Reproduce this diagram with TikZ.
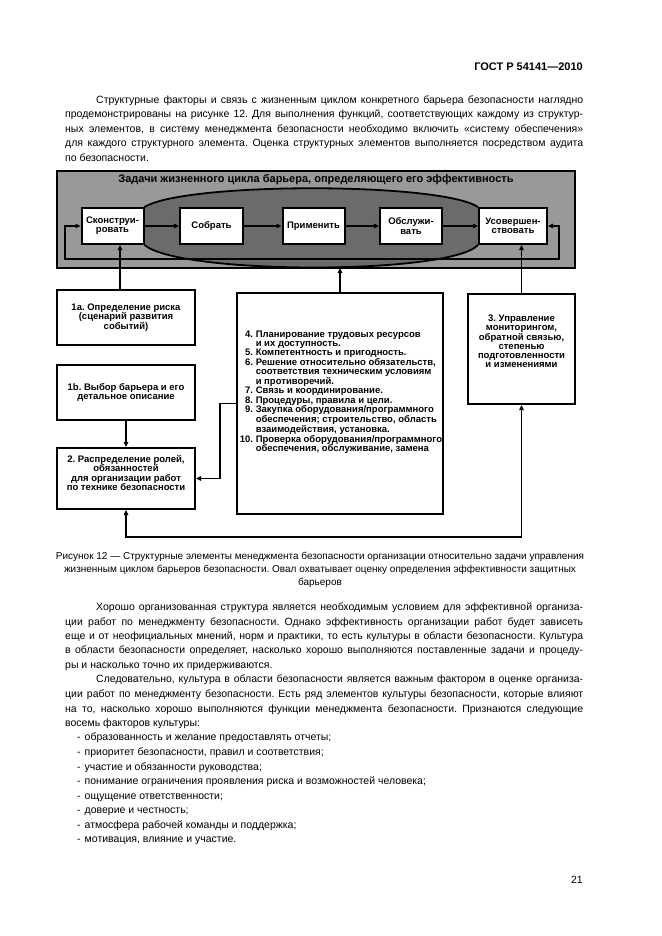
\documentclass[tikz,border=0pt]{standalone}
\usepackage{fontspec}
\setmainfont{Liberation Sans}
\usetikzlibrary{arrows.meta,positioning}

\pgfdeclarelayer{frame}
\pgfdeclarelayer{oval}
\pgfsetlayers{frame,oval,main}

\tikzset{
  stage/.style={draw, line width=2pt, fill=white, minimum width=62pt, minimum height=36pt,
    inner sep=1pt, align=center, font=\bfseries\fontsize{9.5}{9.2}\selectfont},
  block/.style={draw, line width=2.2pt, fill=white, inner sep=0pt, align=center,
    font=\bfseries\fontsize{9.5}{9.2}\selectfont},
  arr/.style={line width=1.7pt, -{Triangle[length=5pt,width=4.5pt]}},
  twoway/.style={line width=1.7pt, {Triangle[length=5pt,width=4.5pt]}-{Triangle[length=5pt,width=4.5pt]}},
  body/.style={anchor=north west, inner sep=0pt, text width=518pt, align=justify,
    font=\fontsize{10.5}{14.5}\selectfont},
}

\begin{document}
\frenchspacing
\begin{tikzpicture}[x=1pt,y=-1pt]
  \useasboundingbox (0,0) rectangle (661,936);

  % page head
  \node[anchor=east, inner sep=0pt, font=\bfseries\fontsize{11}{13}\selectfont] (head) at (583,67) {ГОСТ Р 54141—2010};

  \node[body] (para1) at (65,95.5) {\hyphenpenalty=10000
    \hspace*{31pt}Структурные факторы и связь с жизненным циклом конкретного барьера безопасности наглядно\linebreak
    продемонстрированы на рисунке 12. Для выполнения функций, соответствующих каждому из структур-\linebreak
    ных элементов, в систему менеджмента безопасности необходимо включить «систему обеспечения»\linebreak
    для каждого структурного элемента. Оценка структурных элементов выполняется посредством аудита\linebreak
    по безопасности.};

  % life cycle stages
  \node[stage] (kon) at (112.5,226) {Сконструи-\\ровать};
  \node[stage, minimum width=63pt] (sob) at (211.5,226) {Собрать};
  \node[stage] (pri) at (313.5,226) {Применить};
  \node[stage] (obs) at (411,226) {Обслужи-\\вать};
  \node[stage, minimum width=68pt] (usov) at (513,226) {Усовершен-\\ствовать};

  % grey frame round them
  \coordinate (lcnw) at (57,171);
  \coordinate (lcse) at (575,268);
  \begin{pgfonlayer}{frame}
    \fill[black!40] (lcnw) rectangle (lcse);
  \end{pgfonlayer}
  \node[font=\bfseries\fontsize{11}{12}\selectfont, inner sep=0pt] (ttl) at (316,180)
    {Задачи жизненного цикла барьера, определяющего его эффективность};

  % the oval (effectiveness)
  \begin{pgfonlayer}{oval}
    \fill[black!58] (kon.north east) .. controls (185,182) and (440,182) .. (usov.north west)
       -- (usov.south west) .. controls (450,275) and (180,275) .. (kon.south east) -- cycle;
    \draw[line width=1.8pt] (kon.north east) .. controls (185,182) and (440,182) .. (usov.north west);
    \draw[line width=1.8pt] (kon.south east) .. controls (180,275) and (450,275) .. (usov.south west);
  \end{pgfonlayer}
  \draw[line width=2.2pt] (lcnw) rectangle (lcse);

  \foreach \a/\b in {kon/sob, sob/pri, pri/obs, obs/usov}
    \draw[arr] (\a) -- (\b);

  \coordinate (fbl) at (65,259);
  \coordinate (fbr) at (559,259);
  \draw[twoway] (kon.west) -| (fbl) -- (fbr) |- (usov.east);

  % structural elements
  \node[block, minimum width=138pt, minimum height=55pt] (r1a) at (126,317.5)
    {1а. Определение риска\\(сценарий развития\\событий)};
  \node[block, minimum width=138pt, minimum height=55pt] (r1b) at (126,392.5)
    {1b. Выбор барьера и его\\детальное описание};
  \node[block, minimum width=138pt, minimum height=61pt] (r2) at (126,478.5) {};
  \node[block, draw=none, fill=none] (r2txt) at (126,473)
    {2. Распределение ролей,\\обязанностей\\для организации работ\\по технике безопасности};
  \node[block, minimum width=206pt, minimum height=221pt] (ctr) at (340,403.5) {};
  \node[block, draw=none, fill=none, align=left] (ctrtxt) at (341,392.5)
    {\begin{tabular}{@{}r@{~}l@{}}
      4.&Планирование трудовых ресурсов\\
        &и их доступность.\\
      5.&Компетентность и пригодность.\\
      6.&Решение относительно обязательств,\\
        &соответствия техническим условиям\\
        &и противоречий.\\
      7.&Связь и координирование.\\
      8.&Процедуры, правила и цели.\\
      9.&Закупка оборудования/программного\\
        &обеспечения; строительство, область\\
        &взаимодействия, установка.\\
      10.&Проверка оборудования/программного\\
        &обеспечения, обслуживание, замена
    \end{tabular}};
  \node[block, minimum width=107pt, minimum height=110pt] (r3) at (521.5,349) {};
  \node[block, draw=none, fill=none] (r3txt) at (521.5,341.5)
    {3. Управление\\мониторингом,\\обратной связью,\\степенью\\подготовленности\\и изменениями};

  \coordinate (k1) at ([xshift=7.5pt]kon.south);
  \draw[arr] (r1a.north -| k1) -- (k1);
  \draw[arr] (ctr.north) -- (ctr.north |- lcse);
  \draw[arr] (r3.north) -- (r3.north |- usov.south);
  \draw[arr] (r1b.south) -- (r2.north);
  \coordinate (bend) at (220,0);
  \draw[arr] (ctr.west) -- (ctr.west -| bend) |- (r2.east);
  \coordinate (low) at (0,537);
  \draw[twoway] (r2.south) -- (r2.south |- low) -| (r3.south);

  % caption
  \node[anchor=north, inner sep=0pt, align=center, font=\fontsize{10}{13}\selectfont] (cap) at (320,552)
    {Рисунок 12 — Структурные элементы менеджмента безопасности организации относительно задачи управления\\
     жизненным циклом барьеров безопасности. Овал охватывает оценку определения эффективности защитных\\
     барьеров};

  \node[body] (para2) at (65,602.5) {\hyphenpenalty=10000
    \hspace*{31pt}Хорошо организованная структура является необходимым условием для эффективной организа-\linebreak
    ции работ по менеджменту безопасности. Однако эффективность организации работ будет зависеть\linebreak
    еще и от неофициальных мнений, норм и практики, то есть культуры в области безопасности. Культура\linebreak
    в области безопасности определяет, насколько хорошо выполняются поставленные задачи и процеду-\linebreak
    ры и насколько точно их придерживаются.\par
    \hspace*{31pt}Следовательно, культура в области безопасности является важным фактором в оценке организа-\linebreak
    ции работ по менеджменту безопасности. Есть ряд элементов культуры безопасности, которые влияют\linebreak
    на то, насколько хорошо выполняются функции менеджмента безопасности. Признаются следующие\linebreak
    восемь факторов культуры:\par
    \hspace*{12pt}-\hspace{4pt}образованность и желание предоставлять отчеты;\par
    \hspace*{12pt}-\hspace{4pt}приоритет безопасности, правил и соответствия;\par
    \hspace*{12pt}-\hspace{4pt}участие и обязанности руководства;\par
    \hspace*{12pt}-\hspace{4pt}понимание ограничения проявления риска и возможностей человека;\par
    \hspace*{12pt}-\hspace{4pt}ощущение ответственности;\par
    \hspace*{12pt}-\hspace{4pt}доверие и честность;\par
    \hspace*{12pt}-\hspace{4pt}атмосфера рабочей команды и поддержка;\par
    \hspace*{12pt}-\hspace{4pt}мотивация, влияние и участие.};

  \node[anchor=east, inner sep=0pt, font=\fontsize{10.5}{12}\selectfont] (pg) at (583,880) {21};
\end{tikzpicture}
\end{document}
